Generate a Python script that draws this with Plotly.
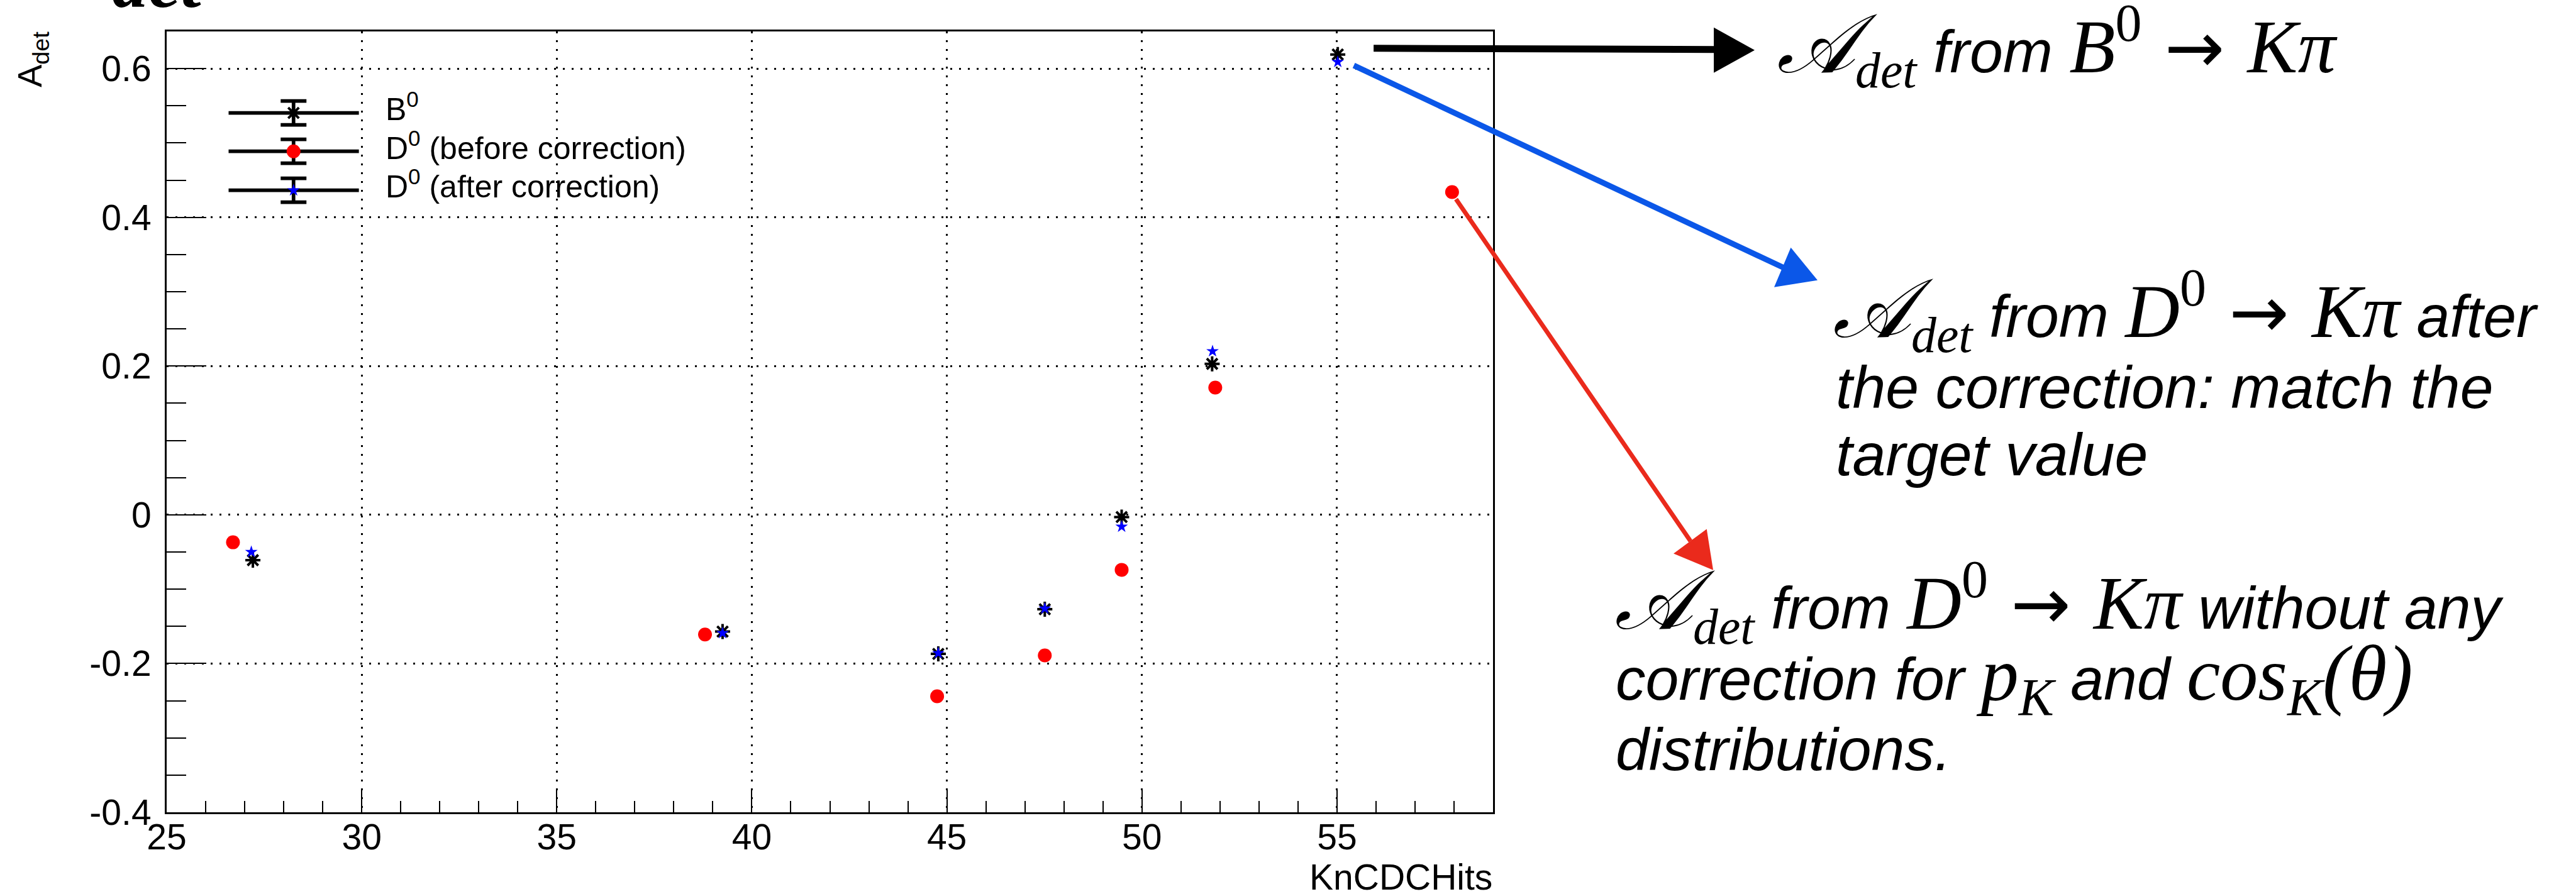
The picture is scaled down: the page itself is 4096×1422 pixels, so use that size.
import plotly.graph_objects as go

# ---------------- data ----------------
b0_x = [27.21, 39.25, 44.78, 47.51, 49.48, 51.80, 55.02]
b0_y = [-0.061, -0.157, -0.187, -0.127, -0.003, 0.203, 0.619]

d0_before_x = [26.70, 38.80, 44.75, 47.51, 49.48, 51.88, 57.95]
d0_before_y = [-0.037, -0.161, -0.244, -0.189, -0.074, 0.171, 0.434]

d0_after_x = [27.17, 39.25, 44.78, 47.51, 49.48, 51.81, 55.02]
d0_after_y = [-0.050, -0.159, -0.186, -0.126, -0.016, 0.220, 0.609]

x_tick_vals = [25, 30, 35, 40, 45, 50, 55]
y_tick_vals = [-0.4, -0.2, 0, 0.2, 0.4, 0.6]
y_tick_text = ["-0.4", "-0.2", "0", "0.2", "0.4", "0.6"]

legend_labels = ["B<sup>0</sup>", "D<sup>0</sup> (before correction)", "D<sup>0</sup> (after correction)"]

# ---------------- layout constants (target pixels) ----------------
W, H = 4096, 1422
L, R, T, B = 264.5, 2373.9, 50.2, 1292.3
PW, PH = R - L, B - T

SANS = "Liberation Sans"
SERIF = "Liberation Serif"
ARROWFONT = "DejaVu Sans"
MATH_SIZE = 120
BLUE_ARROW = "#0b57e8"
RED_ARROW = "#ea2a1c"


def fx(x):
    return (x - L) / PW


def fy(y):
    return (B - y) / PH


fig = go.Figure()

# data traces
fig.add_trace(go.Scatter(x=b0_x, y=b0_y, mode="markers", name="B0",
                         marker=dict(symbol="asterisk-open", size=20, color="black",
                                     line=dict(color="black", width=4))))
fig.add_trace(go.Scatter(x=d0_before_x, y=d0_before_y, mode="markers", name="D0 before",
                         marker=dict(symbol="circle", size=22, color="#ff0000", line=dict(width=0))))
fig.add_trace(go.Scatter(x=d0_after_x, y=d0_after_y, mode="markers", name="D0 after",
                         marker=dict(symbol="star", size=15, color="#0000ff", line=dict(width=0))))

# ---------------- hand-made legend (on overlay axes in plot fractions) ----------------
rows_y = [179.9, 240.9, 302.9]
leg_x0, leg_x1, leg_xc = 363.0, 570.2, 466.3
err_half, cap_half = 19.0, 20.5
lx, ly = [], []
for ry in rows_y:
    lx += [fx(leg_x0), fx(leg_x1), None, fx(leg_xc), fx(leg_xc), None,
           fx(leg_xc - cap_half), fx(leg_xc + cap_half), None,
           fx(leg_xc - cap_half), fx(leg_xc + cap_half), None]
    ly += [fy(ry), fy(ry), None, fy(ry - err_half), fy(ry + err_half), None,
           fy(ry - err_half), fy(ry - err_half), None,
           fy(ry + err_half), fy(ry + err_half), None]
fig.add_trace(go.Scatter(x=lx, y=ly, mode="lines", xaxis="x2", yaxis="y2",
                         line=dict(color="black", width=5.7), hoverinfo="skip"))
leg_styles = [
    dict(symbol="asterisk-open", size=20, color="black", line=dict(color="black", width=4)),
    dict(symbol="circle", size=22, color="#ff0000", line=dict(width=0)),
    dict(symbol="star", size=15, color="#0000ff", line=dict(width=0)),
]
for ry, st in zip(rows_y, leg_styles):
    fig.add_trace(go.Scatter(x=[fx(leg_xc)], y=[fy(ry)], mode="markers", xaxis="x2", yaxis="y2",
                             marker=st, hoverinfo="skip"))

annotations = []
leg_base = [192.6, 254.5, 316.0]
for txt, bl in zip(legend_labels, leg_base):
    annotations.append(dict(text=txt, x=fx(612), y=fy(bl + 10.6), xref="paper", yref="paper",
                            xanchor="left", yanchor="bottom", showarrow=False, borderpad=0,
                            font=dict(family=SANS, size=50, color="black")))

# axis titles
annotations.append(dict(text="A<sub>det</sub>", textangle=-90, x=fx(51), y=fy(49),
                        xref="paper", yref="paper", xanchor="center", yanchor="top",
                        showarrow=False, borderpad=0, font=dict(family=SANS, size=54, color="black")))
annotations.append(dict(text="KnCDCHits", x=fx(2374), y=fy(1362), xref="paper", yref="paper",
                        xanchor="right", yanchor="top", showarrow=False, borderpad=0,
                        font=dict(family=SANS, size=57, color="black")))

# cut-off heading at the top-left
annotations.append(dict(text="<b><i>det</i></b>", x=fx(176), y=fy(37), xref="paper", yref="paper",
                        xanchor="left", yanchor="bottom", showarrow=False, borderpad=0,
                        font=dict(family=SERIF, size=116, color="black")))


def M(s, size=MATH_SIZE, family=SERIF):
    return f"<span style='font-family:{family};font-size:{size}px'>{s}</span>"


A_DET = M("<i>𝒜</i>", 132) + M("<sub><i>det</i></sub>", 114)
ARROW = M(" → ", 114, ARROWFONT)
SUBD = 0.516 * 0.7 * 114   # bottom extension below the baseline for a line with a subscript
lines = [
    (2824, 115.6, SUBD, A_DET + "<i> from </i>" + M("<i>B</i><sup>0</sup>") + ARROW + M("<i>Kπ</i>")),
    (2913, 537.5, SUBD, A_DET + "<i> from </i>" + M("<i>D</i><sup>0</sup>") + ARROW + M("<i>Kπ</i>")
     + "<i> after</i>"),
    (2918, 650.0, 19.9, "<i>the correction: match the</i>"),
    (2918, 757.0, 19.9, "<i>target value</i>"),
    (2566, 1000.7, SUBD, A_DET + "<i> from </i>" + M("<i>D</i><sup>0</sup>") + ARROW + M("<i>Kπ</i>")
     + "<i> without any</i>"),
    (2568, 1114.0, 0.516 * 0.7 * MATH_SIZE, "<i>correction for </i>" + M("<i>p</i><sub><i>K</i></sub>")
     + "<i> and </i>" + M("<i>cos</i><sub><i>K</i></sub>") + M("<i>(θ)</i>", 124)),
    (2568, 1226.0, 19.9, "<i>distributions.</i>"),
]
for x, bl, d, txt in lines:
    annotations.append(dict(text=txt, x=fx(x), y=fy(bl + d), xref="paper", yref="paper",
                            xanchor="left", yanchor="bottom", showarrow=False, borderpad=0,
                            align="left", font=dict(family=SANS, size=95, color="black")))

# ---------------- arrows ----------------
def tri(p1, p2, p3):
    return "M {} {} L {} {} L {} {} Z".format(fx(p1[0]), fy(p1[1]), fx(p2[0]), fy(p2[1]), fx(p3[0]), fy(p3[1]))


shapes = [
    dict(type="line", xref="paper", yref="paper", x0=fx(2184), y0=fy(77), x1=fx(2730), y1=fy(79),
         line=dict(color="black", width=11)),
    dict(type="path", xref="paper", yref="paper", path=tri((2725, 44), (2790, 80), (2725, 116)),
         fillcolor="black", line=dict(width=0)),
    dict(type="line", xref="paper", yref="paper", x0=fx(2152.5), y0=fy(104.4), x1=fx(2836), y1=fy(426),
         line=dict(color=BLUE_ARROW, width=9)),
    dict(type="path", xref="paper", yref="paper", path=tri((2847.5, 394), (2890, 446), (2821, 457)),
         fillcolor=BLUE_ARROW, line=dict(width=0)),
    dict(type="line", xref="paper", yref="paper", x0=fx(2315), y0=fy(317), x1=fx(2688), y1=fy(861),
         line=dict(color=RED_ARROW, width=7)),
    dict(type="path", xref="paper", yref="paper", path=tri((2713.7, 841.8), (2724, 907), (2661, 880.8)),
         fillcolor=RED_ARROW, line=dict(width=0)),
]

fig.update_layout(
    width=W, height=H,
    margin=dict(l=L, r=W - R, t=T, b=H - B, autoexpand=False),
    paper_bgcolor="white", plot_bgcolor="white",
    showlegend=False,
    font=dict(family=SANS, color="black"),
    annotations=annotations,
    shapes=shapes,
    xaxis=dict(range=[25, 59], tickmode="array", tickvals=x_tick_vals,
               ticks="inside", ticklen=37, tickwidth=2, tickcolor="black",
               minor=dict(tickmode="linear", tick0=25, dtick=1, ticks="inside", ticklen=18,
                          tickwidth=2, tickcolor="black", showgrid=False),
               showgrid=True, gridcolor="black", gridwidth=3, griddash="3px,11px",
               zeroline=False, showline=True, mirror=True, linecolor="black", linewidth=3,
               tickfont=dict(family=SANS, size=57, color="black"), ticklabelstandoff=-12),
    yaxis=dict(range=[-0.4, 0.65], tickmode="array", tickvals=y_tick_vals, ticktext=y_tick_text,
               ticks="inside", ticklen=63, tickwidth=2, tickcolor="black",
               minor=dict(tickmode="linear", tick0=-0.4, dtick=0.05, ticks="inside", ticklen=31,
                          tickwidth=2, tickcolor="black", showgrid=False),
               showgrid=True, gridcolor="black", gridwidth=3, griddash="3px,11px",
               zeroline=False, showline=True, mirror=True, linecolor="black", linewidth=3,
               tickfont=dict(family=SANS, size=57, color="black"), ticklabelstandoff=10),
    xaxis2=dict(overlaying="x", range=[0, 1], visible=False, fixedrange=True),
    yaxis2=dict(overlaying="y", range=[0, 1], visible=False, fixedrange=True),
)

fig.write_html("out.html", config={"displayModeBar": False})
